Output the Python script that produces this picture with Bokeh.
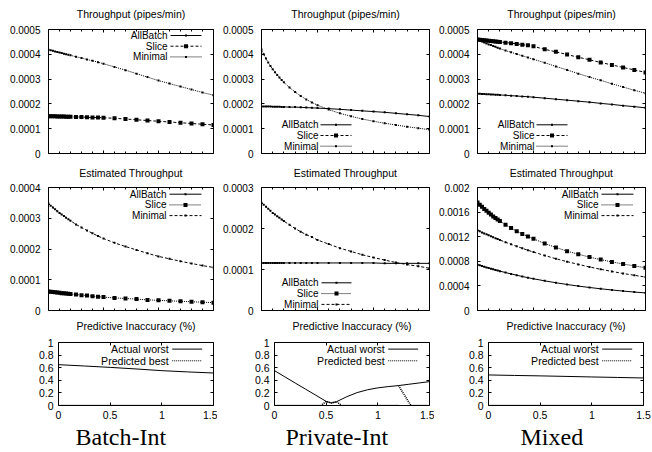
from bokeh.plotting import figure
from bokeh.layouts import column, row
from bokeh.models import FixedTicker, Label, Arrow, BoxAnnotation, LinearAxis, Range1d, Title
from bokeh.embed import file_html
from bokeh.resources import INLINE

NAN = float("nan")

# ---------------- data ----------------
workloads = ["Batch-Int", "Private-Int", "Mixed"]
series_names = ["AllBatch", "Slice", "Minimal"]
inacc_names = ["Actual worst", "Predicted best"]

x_vals = [0, 0.02, 0.04, 0.06, 0.08, 0.1, 0.12, 0.14, 0.16, 0.18, 0.2, 0.25, 0.3, 0.35,
          0.4, 0.45, 0.5, 0.6, 0.7, 0.8, 0.9, 1.0, 1.1, 1.2, 1.3, 1.4, 1.5]

# Throughput (pipes/min)
tp_batch_slice = [1.50e-4, 1.50e-4, 1.50e-4, 1.50e-4, 1.49e-4, 1.49e-4, 1.49e-4, 1.49e-4, 1.48e-4,
                  1.48e-4, 1.48e-4, 1.47e-4, 1.47e-4, 1.46e-4, 1.45e-4, 1.45e-4, 1.44e-4, 1.42e-4,
                  1.39e-4, 1.36e-4, 1.33e-4, 1.30e-4, 1.27e-4, 1.24e-4, 1.21e-4, 1.18e-4, 1.15e-4]
tp_batch_minimal = [4.18e-4, 4.16e-4, 4.14e-4, 4.11e-4, 4.09e-4, 4.07e-4, 4.05e-4, 4.02e-4, 4.00e-4,
                    3.98e-4, 3.96e-4, 3.90e-4, 3.85e-4, 3.79e-4, 3.74e-4, 3.68e-4, 3.62e-4, 3.49e-4,
                    3.36e-4, 3.22e-4, 3.08e-4, 2.94e-4, 2.82e-4, 2.70e-4, 2.58e-4, 2.46e-4, 2.35e-4]
tp_private_allbatch = [1.90e-4, 1.90e-4, 1.90e-4, 1.90e-4, 1.90e-4, 1.89e-4, 1.89e-4, 1.89e-4, 1.89e-4,
                       1.88e-4, 1.88e-4, 1.87e-4, 1.87e-4, 1.86e-4, 1.85e-4, 1.84e-4, 1.83e-4, 1.81e-4,
                       1.78e-4, 1.75e-4, 1.72e-4, 1.69e-4, 1.66e-4, 1.62e-4, 1.58e-4, 1.54e-4, 1.49e-4]
tp_private_minimal = [4.19e-4, 4.00e-4, 3.83e-4, 3.67e-4, 3.53e-4, 3.40e-4, 3.28e-4, 3.17e-4, 3.06e-4,
                      2.96e-4, 2.87e-4, 2.66e-4, 2.48e-4, 2.32e-4, 2.18e-4, 2.06e-4, 1.95e-4, 1.77e-4,
                      1.62e-4, 1.50e-4, 1.39e-4, 1.30e-4, 1.22e-4, 1.15e-4, 1.08e-4, 1.02e-4, 0.96e-4]
tp_mixed_allbatch = [2.41e-4, 2.41e-4, 2.40e-4, 2.40e-4, 2.39e-4, 2.39e-4, 2.38e-4, 2.38e-4, 2.37e-4,
                     2.37e-4, 2.36e-4, 2.35e-4, 2.33e-4, 2.32e-4, 2.30e-4, 2.29e-4, 2.27e-4, 2.23e-4,
                     2.19e-4, 2.15e-4, 2.11e-4, 2.07e-4, 2.02e-4, 1.98e-4, 1.93e-4, 1.89e-4, 1.84e-4]
tp_mixed_slice = [4.60e-4, 4.59e-4, 4.58e-4, 4.57e-4, 4.56e-4, 4.55e-4, 4.54e-4, 4.53e-4, 4.52e-4,
                  4.51e-4, 4.50e-4, 4.47e-4, 4.45e-4, 4.42e-4, 4.39e-4, 4.36e-4, 4.32e-4, 4.20e-4,
                  4.10e-4, 3.99e-4, 3.88e-4, 3.78e-4, 3.67e-4, 3.57e-4, 3.47e-4, 3.37e-4, 3.27e-4]
tp_mixed_minimal = [4.60e-4, 4.56e-4, 4.52e-4, 4.48e-4, 4.44e-4, 4.40e-4, 4.37e-4, 4.33e-4, 4.30e-4,
                    4.26e-4, 4.23e-4, 4.15e-4, 4.08e-4, 4.01e-4, 3.94e-4, 3.87e-4, 3.80e-4, 3.66e-4,
                    3.51e-4, 3.37e-4, 3.22e-4, 3.08e-4, 2.95e-4, 2.81e-4, 2.68e-4, 2.55e-4, 2.43e-4]

# Estimated Throughput
est_batch_slice = [0.620e-4, 0.610e-4, 0.600e-4, 0.590e-4, 0.585e-4, 0.575e-4, 0.565e-4, 0.560e-4, 0.550e-4,
                   0.545e-4, 0.535e-4, 0.520e-4, 0.500e-4, 0.485e-4, 0.465e-4, 0.450e-4, 0.435e-4, 0.410e-4,
                   0.390e-4, 0.370e-4, 0.345e-4, 0.330e-4, 0.315e-4, 0.300e-4, 0.285e-4, 0.270e-4, 0.255e-4]
est_batch_minimal = [3.48e-4, 3.41e-4, 3.35e-4, 3.29e-4, 3.23e-4, 3.17e-4, 3.12e-4, 3.07e-4, 3.02e-4,
                     2.97e-4, 2.92e-4, 2.80e-4, 2.70e-4, 2.60e-4, 2.51e-4, 2.42e-4, 2.34e-4, 2.20e-4,
                     2.08e-4, 1.97e-4, 1.86e-4, 1.76e-4, 1.68e-4, 1.60e-4, 1.53e-4, 1.46e-4, 1.40e-4]
est_private_allbatch = [1.16e-4, 1.16e-4, 1.16e-4, 1.16e-4, 1.16e-4, 1.16e-4, 1.16e-4, 1.16e-4, 1.16e-4,
                        1.16e-4, 1.16e-4, 1.16e-4, 1.16e-4, 1.16e-4, 1.16e-4, 1.16e-4, 1.16e-4, 1.16e-4,
                        1.16e-4, 1.16e-4, 1.16e-4, 1.16e-4, 1.15e-4, 1.15e-4, 1.15e-4, 1.15e-4, 1.15e-4]
est_private_minimal = [2.63e-4, 2.58e-4, 2.53e-4, 2.48e-4, 2.43e-4, 2.38e-4, 2.34e-4, 2.30e-4, 2.26e-4,
                       2.22e-4, 2.18e-4, 2.09e-4, 2.00e-4, 1.92e-4, 1.85e-4, 1.79e-4, 1.72e-4, 1.62e-4,
                       1.52e-4, 1.44e-4, 1.36e-4, 1.29e-4, 1.23e-4, 1.17e-4, 1.12e-4, 1.08e-4, 1.03e-4]
est_mixed_allbatch = [7.45e-4, 7.34e-4, 7.22e-4, 7.11e-4, 7.01e-4, 6.90e-4, 6.80e-4, 6.70e-4, 6.60e-4,
                      6.50e-4, 6.40e-4, 6.17e-4, 5.95e-4, 5.74e-4, 5.53e-4, 5.34e-4, 5.16e-4, 4.82e-4,
                      4.51e-4, 4.23e-4, 3.97e-4, 3.74e-4, 3.53e-4, 3.34e-4, 3.16e-4, 3.00e-4, 2.86e-4]
est_mixed_slice = [17.55e-4, 17.20e-4, 16.85e-4, 16.50e-4, 16.20e-4, 15.90e-4, 15.60e-4, 15.30e-4, 15.05e-4,
                   14.80e-4, 14.55e-4, 13.95e-4, 13.40e-4, 12.90e-4, 12.45e-4, 12.05e-4, 11.65e-4, 10.90e-4,
                   10.25e-4, 9.65e-4, 9.15e-4, 8.68e-4, 8.28e-4, 7.90e-4, 7.56e-4, 7.25e-4, 6.96e-4]
est_mixed_minimal = [13.04e-4, 12.87e-4, 12.70e-4, 12.54e-4, 12.38e-4, 12.22e-4, 12.06e-4, 11.91e-4, 11.76e-4,
                     11.61e-4, 11.46e-4, 11.10e-4, 10.76e-4, 10.43e-4, 10.11e-4, 9.80e-4, 9.50e-4, 8.94e-4,
                     8.42e-4, 7.94e-4, 7.50e-4, 7.08e-4, 6.70e-4, 6.35e-4, 6.02e-4, 5.72e-4, 5.44e-4]

# Predictive Inaccuracy (%)
inacc_x = [0, 0.25, 0.5, 0.75, 1.0, 1.25, 1.5]
inacc_batch_worst = [0.648, 0.627, 0.605, 0.580, 0.553, 0.533, 0.516]
inacc_batch_best = [0, 0, 0, 0, 0, 0, 0]
inacc_private_x = [0, 0.1, 0.2, 0.3, 0.4, 0.5, 0.55, 0.6, 0.7, 0.8, 0.9, 1.0, 1.1, 1.2, 1.3, 1.4, 1.5]
inacc_private_worst = [0.553, 0.455, 0.357, 0.260, 0.163, 0.065, 0.040, 0.060, 0.140, 0.205, 0.250,
                       0.280, 0.300, 0.316, 0.337, 0.358, 0.379]
inacc_private_best_x = [0, 0.45, 0.5, 0.55, 0.6, 0.65, 1.2, 1.2, 1.2, 1.32, 1.5]
inacc_private_best = [0, 0, 0.065, 0.040, 0.060, 0, 0, NAN, 0.316, 0, 0]
inacc_mixed_worst = [0.485, 0.477, 0.470, 0.462, 0.453, 0.445, 0.437]
inacc_mixed_best = [0, 0, 0, 0, 0, 0, 0]

# ticks
x_ticks = [0, 0.5, 1, 1.5]
x_tick_labels = ["0", "0.5", "1", "1.5"]
x_minor_ticks = [0.1, 0.2, 0.3, 0.4, 0.6, 0.7, 0.8, 0.9, 1.1, 1.2, 1.3, 1.4]
tp_ticks = [0, 0.0001, 0.0002, 0.0003, 0.0004, 0.0005]
tp_tick_labels = ["0", "0.0001", "0.0002", "0.0003", "0.0004", "0.0005"]
est_batch_ticks = [0, 0.0001, 0.0002, 0.0003, 0.0004]
est_batch_tick_labels = ["0", "0.0001", "0.0002", "0.0003", "0.0004"]
est_private_ticks = [0, 0.0001, 0.0002, 0.0003]
est_private_tick_labels = ["0", "0.0001", "0.0002", "0.0003"]
est_mixed_ticks = [0, 0.0004, 0.0008, 0.0012, 0.0016, 0.002]
est_mixed_tick_labels = ["0", "0.0004", "0.0008", "0.0012", "0.0016", "0.002"]
inacc_ticks = [0, 0.2, 0.4, 0.6, 0.8, 1]
inacc_tick_labels = ["0", "0.2", "0.4", "0.6", "0.8", "1"]

# ---------------- styling ----------------
SANS = "Liberation Sans"
SERIF = "Liberation Serif"
STYLE_TOP = {"AllBatch": ("solid", 2), "Slice": ("3 2", 4), "Minimal": ("1 1", 2)}
STYLE_MID = {"AllBatch": ("solid", 2), "Slice": ("1 1", 4), "Minimal": ("3 2", 2)}
STYLE_BOT = {"Actual worst": ("solid", 0), "Predicted best": ("1 1", 0)}


def style_axis(ax, ticks, labels, minor, show, size, standoff):
    ax.ticker = FixedTicker(ticks=ticks, minor_ticks=minor)
    ax.axis_line_color = None
    ax.major_tick_in = 3
    ax.major_tick_out = 0
    ax.minor_tick_in = 2
    ax.minor_tick_out = 0
    ax.major_tick_line_color = "black"
    ax.minor_tick_line_color = "black"
    if show:
        ax.major_label_overrides = dict(zip(ticks, labels))
        ax.major_label_text_font = SANS
        ax.major_label_text_font_size = size
        ax.major_label_text_color = "black"
        ax.major_label_standoff = standoff
    else:
        ax.major_label_text_color = None
        ax.major_label_standoff = 0


def make_fig(geom, ymax, yticks, ylabels, bottom_row, title, title_standoff, tick_size, ystandoff):
    L, fw, R, T, fh, B = geom
    p = figure(frame_width=fw, frame_height=fh, min_border_left=L, min_border_right=R,
               min_border_top=T, min_border_bottom=B, x_range=Range1d(0, 1.5),
               y_range=Range1d(0, ymax), output_backend="svg", toolbar_location=None)
    p.xgrid.visible = False
    p.ygrid.visible = False
    p.outline_line_color = "black"
    p.outline_line_alpha = 1.0
    p.outline_line_width = 1
    p.background_fill_color = "white"
    p.border_fill_color = "white"
    minor = [] if bottom_row else x_minor_ticks
    style_axis(p.xaxis[0], x_ticks, x_tick_labels, minor, bottom_row, tick_size, 5)
    style_axis(p.yaxis[0], yticks, ylabels, [], True, tick_size, ystandoff)
    top = LinearAxis()
    style_axis(top, x_ticks, x_tick_labels, minor, False, tick_size, 0)
    p.add_layout(top, "above")
    right = LinearAxis()
    style_axis(right, yticks, ylabels, [], False, tick_size, 0)
    p.add_layout(right, "right")
    if bottom_row:
        # title drawn as the label of the mirrored top axis (keeps it 17px above the frame)
        top.axis_label = title
        top.axis_label_standoff = 11
        top.axis_label_text_font = SANS
        top.axis_label_text_font_size = "10.5px"
        top.axis_label_text_font_style = "normal"
        top.axis_label_text_color = "black"
    else:
        p.title.text = title
        p.title.align = "center"
        p.title.vertical_align = "top"
        p.title.text_font = SANS
        p.title.text_font_size = "10.5px"
        p.title.text_font_style = "normal"
        p.title.text_color = "black"
        p.title.standoff = title_standoff
    return p


def draw(p, xs, ys, dash, msize):
    p.line(xs, ys, line_color="black", line_width=1, line_dash=dash)
    if msize:
        p.scatter(xs, ys, marker="square", size=msize, fill_color="black", line_color=None)


def add_legend(p, names, styles, text_right, s0, s1, y0, dy, font_size):
    for i, name in enumerate(names):
        dash, msize = styles[name]
        y = y0 - i * dy
        p.add_layout(Label(x=text_right, y=y, x_units="screen", y_units="screen", text=name,
                           text_align="right", text_baseline="middle", text_font=SANS,
                           text_font_size=font_size, text_color="black"))
        p.add_layout(Arrow(end=None, x_start=s0, y_start=y, x_end=s1, y_end=y,
                           start_units="screen", end_units="screen", line_color="black",
                           line_width=1, line_dash=dash))
        if msize:
            c = (s0 + s1) / 2
            p.add_layout(BoxAnnotation(left=c - msize / 2, right=c + msize / 2,
                                       bottom=y - msize / 2, top=y + msize / 2,
                                       left_units="screen", right_units="screen",
                                       bottom_units="screen", top_units="screen",
                                       fill_color="black", fill_alpha=1, line_color=None))


# (left border, frame width, right border, top border, frame height, bottom border)
geoms_top = [(48, 165, 4, 29, 124, 6), (44, 168, 5, 29, 124, 6), (43, 168, 7, 29, 124, 6)]
geoms_mid = [(48, 165, 4, 28, 123, 6), (44, 168, 5, 28, 123, 6), (43, 168, 7, 28, 123, 6)]
geoms_bot = [(58, 155, 4, 26, 63, 47), (57, 155, 5, 26, 63, 47), (54, 155, 9, 26, 63, 47)]
label_offsets = [17, 11, 32]

# ---- row 1: Throughput ----
top_series = [
    [("Slice", tp_batch_slice), ("Minimal", tp_batch_minimal)],
    [("AllBatch", tp_private_allbatch), ("Minimal", tp_private_minimal)],
    [("AllBatch", tp_mixed_allbatch), ("Minimal", tp_mixed_minimal), ("Slice", tp_mixed_slice)],
]
row1 = []
for i in range(3):
    g = geoms_top[i]
    p = make_fig(g, 0.0005, tp_ticks, tp_tick_labels, False, "Throughput (pipes/min)", 15, "10px", 8)
    for name, ys in top_series[i]:
        dash, ms = STYLE_TOP[name]
        draw(p, x_vals, ys, dash, ms)
    fw, fh = g[1], g[4]
    if i == 0:
        add_legend(p, series_names, STYLE_TOP, fw - 46, fw - 43, fw - 12, fh - 6, 10.7, "10px")
    else:
        add_legend(p, series_names, STYLE_TOP, 57, 59, 90, 28.7, 10.7, "10px")
    row1.append(p)

# ---- row 2: Estimated Throughput ----
mid_specs = [
    (0.0004, est_batch_ticks, est_batch_tick_labels,
     [("Slice", est_batch_slice), ("Minimal", est_batch_minimal)]),
    (0.0003, est_private_ticks, est_private_tick_labels,
     [("AllBatch", est_private_allbatch), ("Minimal", est_private_minimal)]),
    (0.002, est_mixed_ticks, est_mixed_tick_labels,
     [("AllBatch", est_mixed_allbatch), ("Minimal", est_mixed_minimal), ("Slice", est_mixed_slice)]),
]
row2 = []
for i in range(3):
    g = geoms_mid[i]
    ymax, ticks, labels, series = mid_specs[i]
    p = make_fig(g, ymax, ticks, labels, False, "Estimated Throughput", 14, "10px", 8)
    for name, ys in series:
        dash, ms = STYLE_MID[name]
        draw(p, x_vals, ys, dash, ms)
    fw, fh = g[1], g[4]
    if i == 1:
        add_legend(p, series_names, STYLE_MID, 57, 60, 90, 27.7, 10.8, "10px")
    else:
        add_legend(p, series_names, STYLE_MID, fw - 47, fw - 44, fw - 12, fh - 6.7, 10.7, "10px")
    row2.append(p)

# ---- row 3: Predictive Inaccuracy ----
bot_series = [
    [(inacc_x, inacc_batch_worst, "Actual worst"), (inacc_x, inacc_batch_best, "Predicted best")],
    [(inacc_private_x, inacc_private_worst, "Actual worst"),
     (inacc_private_best_x, inacc_private_best, "Predicted best")],
    [(inacc_x, inacc_mixed_worst, "Actual worst"), (inacc_x, inacc_mixed_best, "Predicted best")],
]
row3 = []
for i in range(3):
    g = geoms_bot[i]
    p = make_fig(g, 1.0, inacc_ticks, inacc_tick_labels, True, "Predictive Inaccuracy (%)", 0, "10.5px", 5)
    for xs, ys, name in bot_series[i]:
        dash, ms = STYLE_BOT[name]
        w = 1 if name == "Actual worst" else 1.6
        p.line(xs, ys, line_color="black", line_width=w, line_dash=dash)
    fw, fh = g[1], g[4]
    add_legend(p, inacc_names, STYLE_BOT, fw - 44.7, fw - 41.3, fw - 11.3, fh - 6.6, 11.7, "10.6px")
    p.add_layout(Title(text=workloads[i], align="left", offset=label_offsets[i], standoff=0,
                       vertical_align="bottom", text_font=SERIF, text_font_size="24px",
                       text_font_style="normal", text_color="black"), "below")
    row3.append(p)

layout = column(row(*row1), row(*row2), row(*row3))
open("out.html", "w").write(file_html(layout, INLINE))
